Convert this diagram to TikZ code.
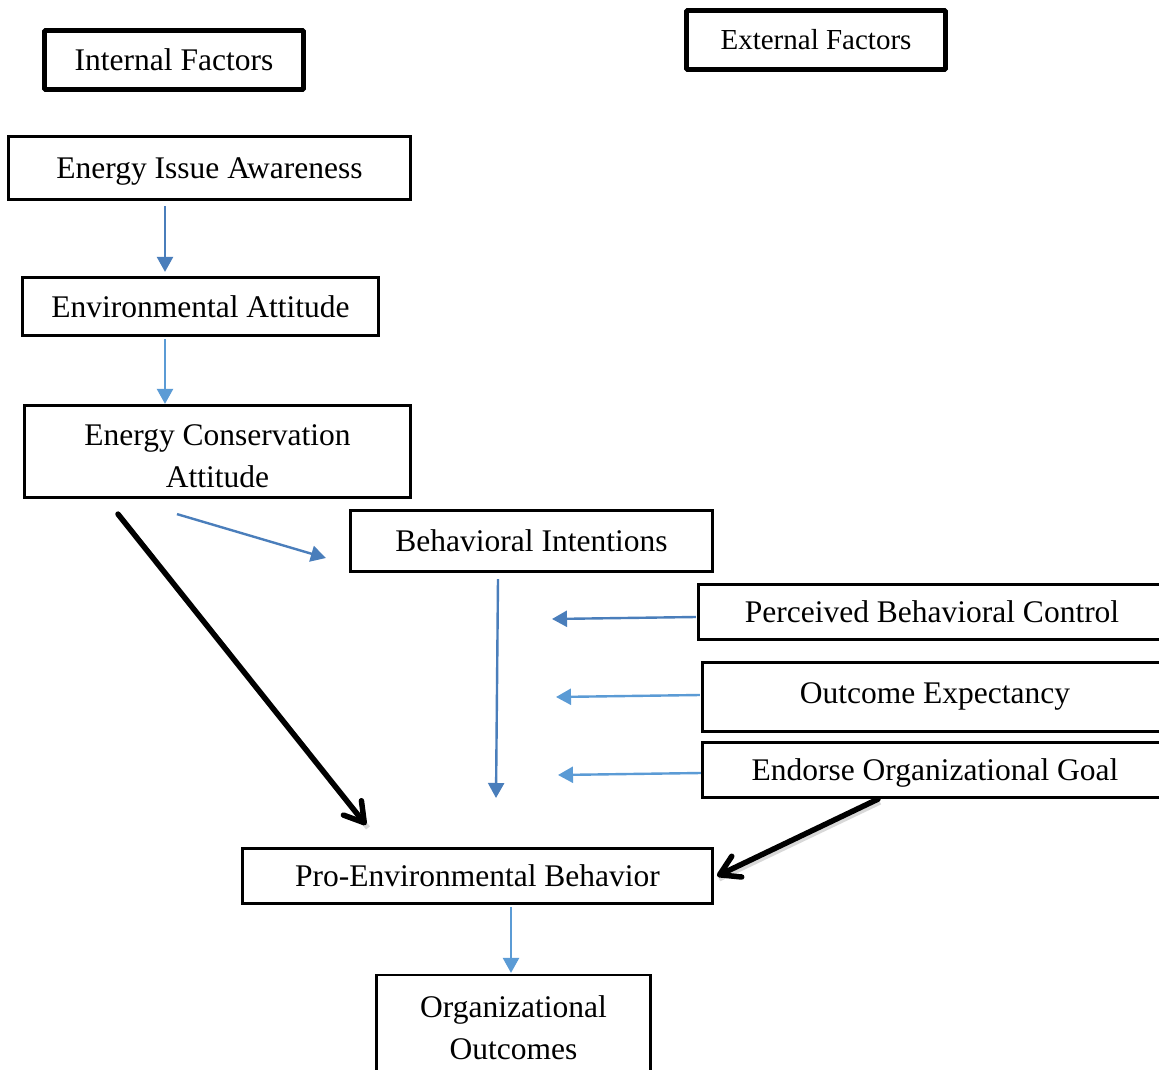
\documentclass[tikz,border=0pt]{standalone}
\usepackage{fontspec}
\setmainfont{Liberation Serif}
\usetikzlibrary{arrows.meta,calc}
\definecolor{bdark}{HTML}{4A7EBB}
\definecolor{blight}{HTML}{5B9BD5}
\tikzset{
  box/.style={draw=black, line width=2.2pt, rectangle, inner sep=0pt, align=center,
    text height=21pt, text depth=0pt,
    font=\fontsize{31.5}{42}\selectfont},
  twoline/.style={text height={}, text depth={}},
  thickbox/.style={box, line width=4.8pt, rounded corners=1pt},
  bluearrow/.style={line width=2.4pt, -{Triangle[length=15pt,width=16pt]}},
  darkarrow/.style={bluearrow, draw=bdark, fill=bdark},
  lightarrow/.style={bluearrow, draw=blight, fill=blight},
  blackarrow/.style={line width=5.5pt, line cap=round, -{Straight Barb[length=19pt,width=23pt,line cap=round,line join=round]}},
  shadowline/.style={line width=5pt, draw=black!25, opacity=0.6}
}
\begin{document}
\begin{tikzpicture}[x=1pt,y=-1pt]
\useasboundingbox (0,0) rectangle (1159,1070);
\clip (0,0) rectangle (1159,1070);
\fill[white] (0,0) rectangle (1159,1070);

\node[thickbox, minimum width=259pt, minimum height=59pt] (intf) at (174,60) {Internal Factors};
\node[thickbox, minimum width=259pt, minimum height=59pt, text height=19pt, font=\fontsize{29}{36}\selectfont] (extf) at (816,40) {External Factors};

\node[box, minimum width=402pt, minimum height=63pt] (eia) at (209.5,168) {Energy Issue Awareness};
\node[box, minimum width=356pt, minimum height=58pt] (ea) at (200.5,306.5) {Environmental Attitude};
\node[box, twoline, minimum width=386pt, minimum height=92pt] (eca) at (217.5,451.5) {\rule{0pt}{31pt}Energy Conservation\\Attitude};
\node[box, minimum width=362pt, minimum height=61pt] (bi) at (531.5,541) {Behavioral Intentions};
\node[box, minimum width=467pt, minimum height=55pt] (pbc) at (932,612) {Perceived Behavioral Control};
\node[box, minimum width=465pt, minimum height=69pt] (oe) at (935,697) {\raisebox{4pt}{Outcome Expectancy}};
\node[box, minimum width=465pt, minimum height=55pt] (eog) at (935,770) {Endorse Organizational Goal};
\node[box, minimum width=470pt, minimum height=55pt] (peb) at (477.5,876) {Pro-Environmental Behavior};
\node[box, twoline, minimum width=274pt, minimum height=106pt] (oo) at (513.5,1028) {Organizational\\Outcomes};

\coordinate (bidown) at (496,798);
\coordinate (pbcend) at (552,619);
\coordinate (oeend) at (556,697);
\coordinate (eogend) at (558,775);

\draw[darkarrow] ($(eia.south)+(-44.5,5.5)$) -- ($(ea.north)+(-35.5,-4.5)$);
\draw[lightarrow] ($(ea.south)+(-35.5,2.5)$) -- ($(eca.north)+(-52.5,-0.5)$);
\draw[darkarrow] ($(eca.south)+(-40.5,15.5)$) -- ($(bi.west)+(-23.5,17)$);
\draw[darkarrow] ($(bi.south)+(-33.5,6.5)$) -- (bidown);
\draw[darkarrow] ($(pbc.west)+(-1.5,5)$) -- (pbcend);
\draw[lightarrow] ($(oe.west)+(-1.5,-2)$) -- (oeend);
\draw[lightarrow] ($(eog.west)+(-0.5,3)$) -- (eogend);
\draw[lightarrow] ($(peb.south)+(33.5,2.5)$) -- ($(oo.north)+(-2.5,-1)$);

\draw[shadowline] ($(eca.south)+(-97.5,18.5)$) -- ($(peb.north)+(-109.5,-19.5)$);
\draw[shadowline] ($(eog.south)+(-55,3.5)$) -- ($(peb.east)+(5.5,3)$);
\draw[blackarrow] ($(eca.south)+(-99.5,15.5)$) -- ($(peb.north)+(-111.5,-22.5)$);
\draw[blackarrow] ($(eog.south)+(-57,0.5)$) -- ($(peb.east)+(3.5,0)$);
\end{tikzpicture}
\end{document}
